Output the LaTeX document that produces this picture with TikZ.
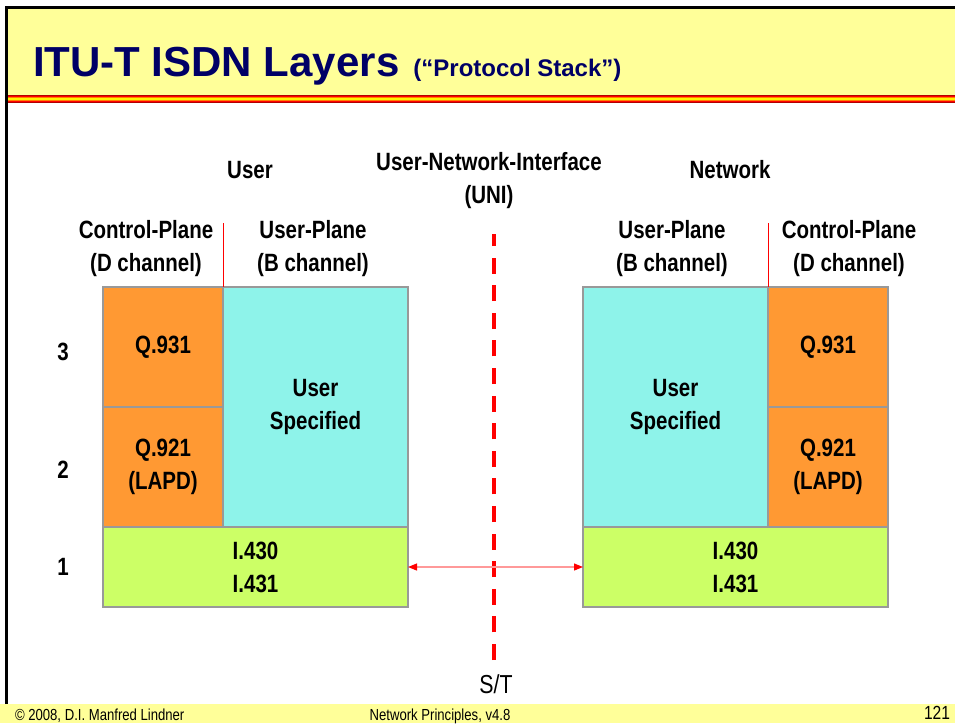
\documentclass[tikz,border=0pt]{standalone}
\usepackage{fontspec}
\setmainfont{Liberation Sans}
\newfontfamily\narrowfont[FakeStretch=0.82]{Liberation Sans}
\usepackage{xcolor}
\usepackage{tikz}
\usetikzlibrary{arrows.meta, positioning}

\definecolor{slideyellow}{HTML}{FFFF99}
\definecolor{titleblue}{HTML}{000066}
\definecolor{ctrlorange}{HTML}{FF9933}
\definecolor{usercyan}{HTML}{8EF3EA}
\definecolor{phygreen}{HTML}{CCFF66}
\definecolor{edgegray}{HTML}{999999}
\definecolor{arrowpink}{HTML}{FF9999}

\begin{document}
\begin{tikzpicture}[
      x=1pt, y=-1pt,
      every node/.style={inner sep=0pt, outer sep=0pt, align=center,
        font=\narrowfont\bfseries\fontsize{25}{33}\selectfont},
      layerbox/.style={draw=edgegray, line width=1.5pt},
      ctrl/.style={layerbox, fill=ctrlorange, minimum width=120pt, minimum height=120pt},
      userbox/.style={layerbox, fill=usercyan, minimum width=185pt, minimum height=240pt},
      phy/.style={layerbox, fill=phygreen, minimum width=305pt, minimum height=80pt},
      plane/.style={draw=red, line width=1pt},
      foot/.style={font=\narrowfont\fontsize{16}{18}\selectfont}
    ]
      \useasboundingbox (0,0) rectangle (955,723);
      \fill[white] (0,0) rectangle (955,723);

      \fill[slideyellow] (7.5,9) rectangle (955,95);
      \foreach \c [count=\i] in {red!70!black, red, orange, yellow, yellow, orange, red, red!70!black}
        \fill[\c] (7.5,94+\i) rectangle (955,95+\i);
      \fill[slideyellow] (0,704) rectangle (955,723);
      \draw[line width=3pt] (6,704) -- (6,7.5) -- (955,7.5);

      \node[anchor=base west, text=titleblue, font=\bfseries\fontsize{42}{48}\selectfont] (title) at (33,76)
        {ITU-T ISDN Layers\hspace{14pt}{\fontsize{24}{28}\selectfont (“Protocol Stack”)}};

      \node (user) at (250,170) {User};
      \node (net) at (730,170) {Network};
      \node (uni) at (489,181) {User-Network-Interface\\(UNI)};
      \node (lcp) at (146,249) {Control-Plane\\(D channel)};
      \node (lup) at (313,249) {User-Plane\\(B channel)};
      \node (rup) at (672,249) {User-Plane\\(B channel)};
      \node (rcp) at (849,249) {Control-Plane\\(D channel)};

      \node (l3) at (63,352) {3};
      \node (l2) at (63,470) {2};
      \node (l1) at (63,567) {1};

      \node[ctrl] (lq3) at (163,347) {Q.931};
      \node[ctrl] (lq2) at (163,467) {Q.921\\(LAPD)};
      \node[userbox] (lus) at (315.5,407) {User\\Specified};
      \node[phy] (lphy) at (255.5,567) {I.430\\I.431};

      \node[userbox] (rus) at (675.5,407) {User\\Specified};
      \node[ctrl] (rq3) at (828,347) {Q.931};
      \node[ctrl] (rq2) at (828,467) {Q.921\\(LAPD)};
      \node[phy] (rphy) at (735.5,567) {I.430\\I.431};

      \coordinate (lsplit) at (223,223);
      \coordinate (rsplit) at (768,223);
      \draw[plane] (lsplit) -- (lq3.north east);
      \draw[plane] (rsplit) -- (rq3.north west);

      \coordinate (unitop) at (494,234);
      \coordinate (unibot) at (494,660);
      \draw[red, line width=4pt, dash pattern=on 16pt off 11.6pt] (unibot) -- (unitop);
      \node[font=\narrowfont\fontsize{26}{30}\selectfont] (st) at (496,684) {S/T};

      \draw[arrowpink, line width=1.2pt,
        {Triangle[color=red, length=9pt, width=7pt]}-{Triangle[color=red, length=9pt, width=7pt]}]
        (lphy.east) -- (rphy.west);

      \node[foot, anchor=base west] (copy) at (15,720) {© 2008, D.I. Manfred Lindner};
      \node[foot, anchor=base] (course) at (440,720) {Network Principles, v4.8};
      \node[foot, anchor=base east, font=\narrowfont\fontsize{19}{21}\selectfont] (page) at (950,719) {121};
    \end{tikzpicture}
\end{document}
